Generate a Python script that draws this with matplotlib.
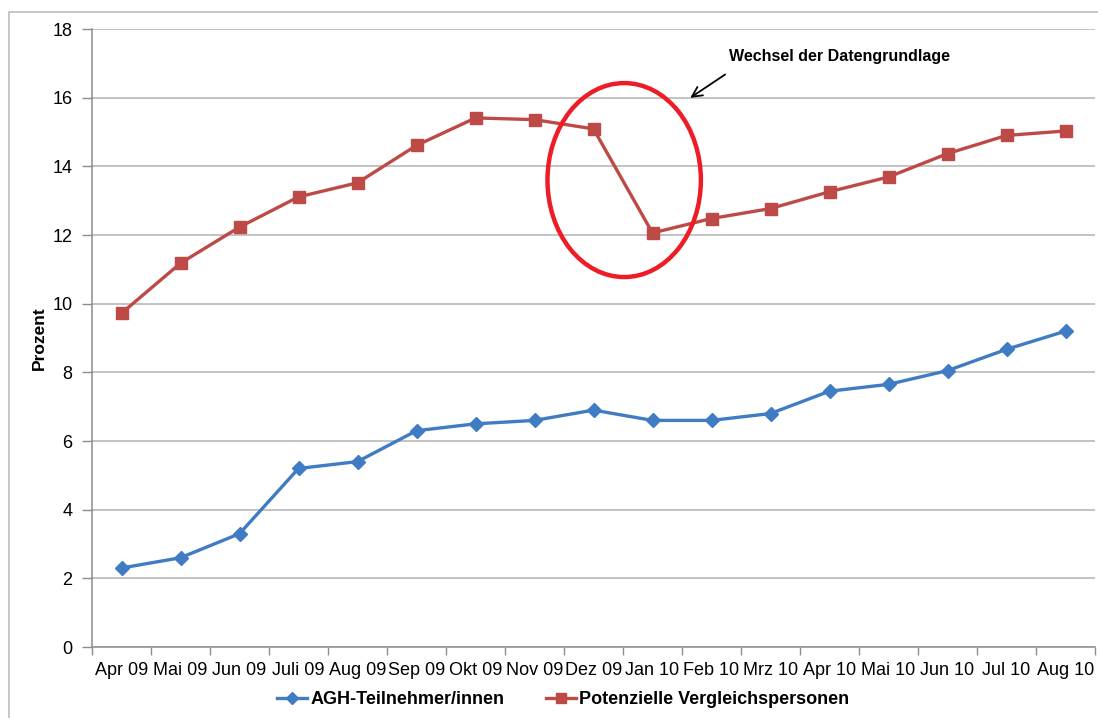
import matplotlib
matplotlib.use("Agg")
from matplotlib import pyplot as plt
from matplotlib.patches import Ellipse, Rectangle
from matplotlib.ticker import FixedLocator, NullFormatter
import numpy as np

plt.rcParams['font.family'] = ['Liberation Sans', 'DejaVu Sans']

months = ["Apr 09", "Mai 09", "Jun 09", "Juli 09", "Aug 09", "Sep 09", "Okt 09",
          "Nov 09", "Dez 09", "Jan 10", "Feb 10", "Mrz 10", "Apr 10", "Mai 10",
          "Jun 10", "Jul 10", "Aug 10"]
agh = [2.3, 2.6, 3.3, 5.2, 5.4, 6.3, 6.5, 6.6, 6.9, 6.6, 6.6, 6.8, 7.45, 7.65,
       8.05, 8.67, 9.2]
vergleich = [9.72, 11.18, 12.23, 13.11, 13.52, 14.61, 15.41, 15.36, 15.09, 12.06,
             12.48, 12.77, 13.26, 13.69, 14.37, 14.9, 15.03]
y_ticks = [0, 2, 4, 6, 8, 10, 12, 14, 16, 18]

BLUE = "#3F7CC3"
RED = "#BE4A47"
GRID = "#B3B3B3"
AXIS = "#8C8C8C"

fig = plt.figure(figsize=(10.98, 7.18), dpi=100)
ax = fig.add_axes([92 / 1098, 1 - 647 / 718, (1095 - 92) / 1098, (647 - 29) / 718])

# outer chart frame (only top and left edges fall inside the picture)
fig.patches.append(Rectangle((9 / 1098, -0.1), 1.2, 1.1 - 12 / 718,
                             transform=fig.transFigure, fill=False,
                             edgecolor="#BDBDBD", linewidth=1.2))

x = np.arange(len(months))
ax.plot(x, agh, color=BLUE, linewidth=2.4, marker="D", markersize=7,
        label="AGH-Teilnehmer/innen", zorder=3)
ax.plot(x, vergleich, color=RED, linewidth=2.4, marker="s", markersize=8,
        label="Potenzielle Vergleichspersonen", zorder=3)

ax.set_xlim(-0.5, len(months) - 0.5)
ax.set_ylim(0, 18)
ax.set_yticks(y_ticks)
ax.yaxis.grid(True, color=GRID, linewidth=1.1)
ax.set_axisbelow(True)

ax.xaxis.set_major_locator(FixedLocator(np.arange(-0.5, len(months), 1.0)))
ax.xaxis.set_major_formatter(NullFormatter())
ax.xaxis.set_minor_locator(FixedLocator(x))
ax.set_xticklabels(months, minor=True)
ax.tick_params(axis="x", which="major", length=6, color=AXIS, width=1)
ax.tick_params(axis="x", which="minor", length=0, pad=11, labelsize=13)
ax.tick_params(axis="y", length=7, color=AXIS, width=1, labelsize=13, pad=7)

for side in ["top", "right"]:
    ax.spines[side].set_visible(False)
for side in ["left", "bottom"]:
    ax.spines[side].set_color(AXIS)
    ax.spines[side].set_linewidth(1.1)

ax.set_ylabel("Prozent", fontsize=12.5, fontweight="bold", labelpad=4)

# marking the change of the data basis
ax.add_patch(Ellipse((8.52, 13.6), 2.6, 5.65, fill=False, edgecolor="#EE1C25",
                     linewidth=3.2, zorder=4))
ax.annotate("", xy=(9.6, 15.95), xytext=(10.27, 16.72),
            arrowprops=dict(arrowstyle="->", color="black", lw=1.3,
                            mutation_scale=18))
ax.text(10.3, 17.2, "Wechsel der Datengrundlage", fontsize=11.5,
        fontweight="bold", va="center", ha="left")

leg = fig.legend(loc="center", bbox_to_anchor=(563 / 1098, 1 - 700 / 718), ncol=2,
                 frameon=False, prop={"size": 13, "weight": "bold"},
                 handlelength=1.7, handletextpad=0.15, columnspacing=2.3,
                 markerscale=0.85)

fig.savefig("out.png", dpi=100)
